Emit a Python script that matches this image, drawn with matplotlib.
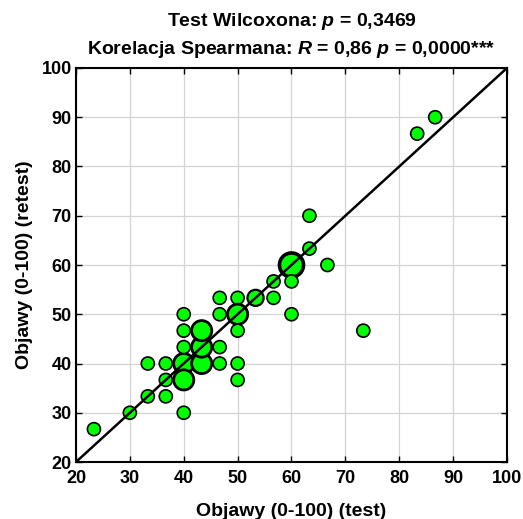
import matplotlib.pyplot as plt
import numpy as np

plt.rcParams['font.family'] = ['Liberation Sans', 'DejaVu Sans']
plt.rcParams['font.weight'] = 'bold'
plt.rcParams['mathtext.fontset'] = 'custom'
plt.rcParams['mathtext.rm'] = 'Liberation Sans:bold'
plt.rcParams['mathtext.it'] = 'Liberation Sans:italic:bold'
plt.rcParams['mathtext.bf'] = 'Liberation Sans:bold'

# test / retest scores and how many subjects share each pair
test = [23.33, 30.0, 33.33, 36.67, 36.67, 33.33, 36.67, 40.0, 40.0, 40.0,
        40.0, 40.0, 40.0, 43.33, 43.33, 43.33, 46.67, 46.67, 46.67, 46.67,
        50.0, 50.0, 50.0, 50.0, 50.0, 53.33, 56.67, 56.67, 60.0, 60.0,
        60.0, 63.33, 63.33, 66.67, 73.33, 83.33, 86.67]
retest = [26.67, 30.0, 33.33, 33.33, 36.67, 40.0, 40.0, 40.0, 36.67, 30.0,
          43.33, 46.67, 50.0, 40.0, 43.33, 46.67, 40.0, 43.33, 50.0, 53.33,
          53.33, 50.0, 46.67, 40.0, 36.67, 53.33, 53.33, 56.67, 60.0, 56.67,
          50.0, 63.33, 70.0, 60.0, 46.67, 86.67, 90.0]
counts = [1, 1, 1, 1, 1, 1, 1, 3, 3, 1,
          1, 1, 1, 3, 3, 3, 1, 1, 1, 1,
          1, 3, 1, 1, 1, 2, 1, 1, 4, 1,
          1, 1, 1, 1, 1, 1, 1]

ticks = [20, 30, 40, 50, 60, 70, 80, 90, 100]

size_map = {1: 88, 2: 135, 3: 210, 4: 300}
edge_map = {1: 1.2, 2: 1.6, 3: 2.0, 4: 2.6}
sizes = [size_map[c] for c in counts]
edges = [edge_map[c] for c in counts]

fig = plt.figure(figsize=(5.23, 5.19), dpi=100)
ax = fig.add_axes([0.1453, 0.1098, 0.8241, 0.7592])

ax.scatter(test, retest, s=sizes, c='#00ff00', edgecolors='black',
           linewidths=edges, zorder=3)
ax.plot([20, 100], [20, 100], color='black', linewidth=1.8, zorder=4)

ax.set_xlim(20, 100)
ax.set_ylim(20, 100)
ax.set_xticks(ticks)
ax.set_yticks(ticks)
ax.grid(True, color='#d4d4d4', linewidth=0.9)
ax.set_axisbelow(True)
ax.tick_params(direction='in', length=4, width=1, top=True, right=True,
               labelsize=13)
ax.tick_params(axis='x', pad=6)
ax.tick_params(axis='y', pad=3)
for lab in ax.get_xticklabels() + ax.get_yticklabels():
    lab.set_fontweight('bold')
for sp in ax.spines.values():
    sp.set_linewidth(1.5)

ax.set_xlabel('Objawy (0-100) (test)', fontsize=14, fontweight='bold', labelpad=11)
ax.set_ylabel('Objawy (0-100) (retest)', fontsize=14, fontweight='bold', labelpad=6)
ax.set_title('Test Wilcoxona: $p$ = 0,3469\n'
             'Korelacja Spearmana: $R$ = 0,86 $p$ = 0,0000***',
             fontsize=14, fontweight='bold', pad=10, linespacing=1.45)

fig.savefig('out.png', dpi=100)
